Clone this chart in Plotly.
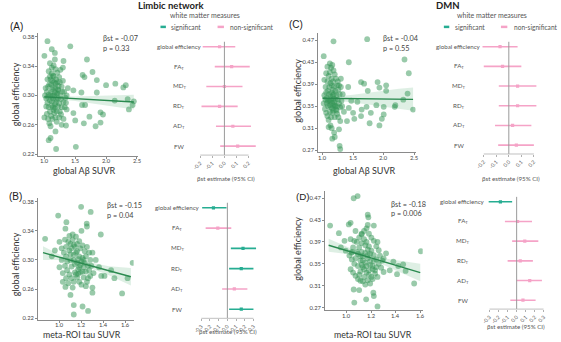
import plotly.graph_objects as go

W, H = 561, 342

# ---------------- scatter data ----------------
a_x = [1.05,1.42,1.12,1.17,1.00,1.31,1.69,1.17,1.62,1.78,1.65,1.85,2.00,2.15,2.28,2.32,1.85,1.60,1.47,2.14,2.35,2.45,2.43,2.37,1.66,1.61,1.35,1.36,1.47,1.50,1.73,1.91,1.95,1.83,1.91,1.64,1.35,1.28,1.18,1.07,1.10,1.19,1.51,1.00,1.03,
       1.02,1.04,1.06,1.08,1.10,1.12,1.14,1.16,1.18,1.20,1.22,1.24,1.26,1.28,1.30,1.32,1.34,1.05,1.07,1.09,1.11,1.13,1.15,1.17,1.19,1.21,1.23,1.25,1.03,1.06,1.09,1.12,1.15,1.18,1.21,1.24,1.10,1.13,1.16,1.19,1.22,1.25,1.28,1.31,1.12,1.14,1.16,1.18,1.20,1.08,1.10,1.04,1.01,1.11,1.13,1.15,1.17,1.19,1.21,1.23,1.27,1.29,1.33,1.36,1.38,1.09,1.07,1.26,1.30,1.05,1.14,1.17,1.20,1.24,1.11,1.13,1.22,1.15,1.18,1.07,1.09,1.27,1.31,1.12,1.06]
a_y = [0.374,0.367,0.363,0.358,0.354,0.347,0.349,0.349,0.328,0.332,0.325,0.321,0.314,0.316,0.311,0.314,0.304,0.304,0.307,0.293,0.295,0.292,0.287,0.281,0.287,0.287,0.290,0.281,0.276,0.266,0.271,0.277,0.274,0.258,0.263,0.262,0.259,0.260,0.251,0.239,0.242,0.227,0.230,0.270,0.285,
       0.310,0.305,0.298,0.315,0.322,0.330,0.327,0.318,0.310,0.303,0.296,0.289,0.300,0.312,0.320,0.305,0.297,0.290,0.284,0.278,0.272,0.268,0.280,0.288,0.295,0.302,0.313,0.318,0.296,0.312,0.326,0.338,0.341,0.336,0.331,0.325,0.300,0.308,0.300,0.291,0.285,0.278,0.284,0.291,0.292,0.284,0.276,0.270,0.264,0.262,0.258,0.275,0.300,0.315,0.320,0.311,0.304,0.322,0.318,0.307,0.295,0.305,0.284,0.300,0.310,0.344,0.333,0.335,0.338,0.322,0.296,0.283,0.278,0.270,0.305,0.299,0.308,0.326,0.316,0.301,0.293,0.274,0.268,0.286,0.268]

b_x = [0.869,0.988,1.197,1.284,1.248,1.25,1.063,1.376,0.958,1.054,1.666,1.62,1.50,1.47,1.38,1.41,1.36,1.57,1.30,1.30,1.13,1.21,1.13,1.26,1.054,1.10,1.03,1.33,0.93,1.0,
       1.02,1.04,1.06,1.08,1.10,1.12,1.14,1.16,1.18,1.20,1.22,1.24,1.26,1.28,1.05,1.07,1.09,1.11,1.13,1.15,1.17,1.19,1.21,1.23,1.25,1.27,1.03,1.06,1.09,1.12,1.15,1.18,1.21,1.24,1.10,1.13,1.16,1.19,1.22,1.25,1.28,1.11,1.14,1.16,1.18,1.20,1.08,1.12,1.00,1.11,1.13,1.15,1.17,1.19,1.21,1.23,1.27,1.29,1.31,1.05,1.09,1.20,1.07,1.14,1.17,1.22,1.24,1.10,1.16,1.06,1.26,1.18,1.02,1.30,1.13]
b_y = [0.329,0.361,0.373,0.366,0.350,0.346,0.352,0.335,0.313,0.343,0.296,0.275,0.275,0.286,0.278,0.278,0.290,0.254,0.255,0.262,0.238,0.236,0.225,0.230,0.263,0.252,0.270,0.300,0.305,0.325,
       0.300,0.310,0.318,0.325,0.322,0.328,0.318,0.312,0.305,0.298,0.290,0.284,0.292,0.300,0.292,0.286,0.280,0.275,0.270,0.280,0.287,0.293,0.303,0.312,0.318,0.310,0.282,0.305,0.313,0.335,0.332,0.326,0.320,0.305,0.300,0.307,0.296,0.283,0.276,0.270,0.278,0.291,0.283,0.276,0.270,0.266,0.268,0.262,0.290,0.316,0.321,0.310,0.301,0.316,0.284,0.296,0.286,0.292,0.282,0.328,0.333,0.340,0.298,0.294,0.281,0.300,0.264,0.308,0.322,0.275,0.275,0.290,0.316,0.310,0.300]

c_x = [1.18,1.73,1.02,1.43,2.34,2.41,1.63,1.68,1.90,1.74,1.93,2.04,2.04,2.39,2.32,2.48,2.19,2.18,2.00,1.88,1.72,1.64,1.79,2.00,1.97,1.93,1.77,1.63,1.52,1.50,1.57,1.47,1.43,1.40,1.29,1.27,1.19,1.16,1.20,1.28,1.29,1.42,1.30,
       1.03,1.05,1.07,1.09,1.11,1.13,1.15,1.17,1.19,1.21,1.23,1.25,1.27,1.29,1.31,1.33,1.04,1.06,1.08,1.10,1.12,1.14,1.16,1.18,1.20,1.22,1.24,1.26,1.05,1.08,1.10,1.12,1.14,1.16,1.18,1.20,1.22,1.24,1.26,1.28,1.11,1.13,1.15,1.17,1.19,1.21,1.23,1.09,1.07,1.12,1.14,1.16,1.18,1.20,1.13,1.15,1.10,1.08,1.06,1.12,1.15,1.17,1.19,1.03,1.25,1.27,1.30,1.32,1.35,1.11,1.13,1.16,1.21,1.09,1.14,1.18,1.02,1.24,1.06]
c_y = [0.468,0.472,0.441,0.430,0.435,0.410,0.394,0.391,0.394,0.378,0.384,0.388,0.378,0.373,0.362,0.344,0.352,0.349,0.349,0.352,0.349,0.344,0.338,0.335,0.327,0.315,0.319,0.332,0.327,0.338,0.358,0.360,0.347,0.323,0.323,0.308,0.302,0.291,0.294,0.278,0.272,0.385,0.400,
       0.370,0.362,0.355,0.378,0.385,0.392,0.400,0.395,0.386,0.378,0.370,0.362,0.355,0.348,0.360,0.372,0.345,0.338,0.332,0.325,0.340,0.348,0.356,0.364,0.352,0.344,0.336,0.330,0.385,0.395,0.405,0.412,0.420,0.425,0.415,0.408,0.400,0.388,0.380,0.372,0.360,0.368,0.375,0.370,0.358,0.350,0.342,0.350,0.365,0.352,0.330,0.338,0.342,0.330,0.315,0.310,0.312,0.422,0.410,0.428,0.388,0.380,0.372,0.398,0.395,0.388,0.385,0.350,0.340,0.372,0.358,0.346,0.362,0.360,0.362,0.352,0.355,0.350,0.375]

d_x = [1.055,1.087,0.862,0.934,0.98,1.015,1.03,1.17,1.175,1.22,1.17,0.99,1.036,1.32,1.38,1.46,1.42,1.48,1.41,1.35,1.55,1.605,1.30,1.30,1.10,1.055,1.216,1.22,1.06,1.157,1.25,1.11,0.95,1.12,1.07,
       1.02,1.04,1.06,1.08,1.10,1.12,1.14,1.16,1.18,1.20,1.22,1.24,1.26,1.28,1.03,1.05,1.07,1.09,1.11,1.13,1.15,1.17,1.19,1.21,1.23,1.25,1.05,1.08,1.10,1.12,1.14,1.16,1.18,1.20,1.22,1.24,1.26,1.11,1.13,1.15,1.17,1.19,1.21,1.23,1.09,1.07,1.12,1.14,1.16,1.18,1.20,1.13,1.15,1.17,1.19,1.21,1.10,1.06,1.12,1.15,1.17,1.19,1.03,1.25,1.27,1.29,1.14,1.16,1.11,1.09,1.22,1.24,1.13,1.18,1.04]
d_y = [0.470,0.474,0.420,0.406,0.392,0.422,0.425,0.440,0.435,0.420,0.421,0.374,0.370,0.369,0.354,0.349,0.346,0.337,0.331,0.338,0.314,0.373,0.360,0.335,0.302,0.303,0.297,0.291,0.279,0.285,0.272,0.319,0.380,0.405,0.410,
       0.365,0.358,0.350,0.372,0.380,0.388,0.395,0.390,0.382,0.374,0.366,0.358,0.350,0.343,0.340,0.334,0.328,0.322,0.336,0.344,0.352,0.360,0.348,0.340,0.332,0.326,0.380,0.390,0.398,0.404,0.410,0.415,0.405,0.398,0.392,0.382,0.375,0.356,0.364,0.370,0.366,0.355,0.346,0.338,0.346,0.360,0.348,0.326,0.334,0.338,0.326,0.318,0.312,0.320,0.314,0.322,0.330,0.392,0.372,0.384,0.376,0.368,0.395,0.390,0.365,0.356,0.340,0.346,0.364,0.368,0.355,0.344,0.356,0.330,0.372]

# regression fits and 95% bands
a_reg_x = [1.0, 1.25, 1.5, 1.75, 2.0, 2.25, 2.45]
a_reg_y = [0.2980, 0.2968, 0.2956, 0.2944, 0.2932, 0.2920, 0.2910]
a_reg_lo = [0.2945, 0.2945, 0.2925, 0.2895, 0.2865, 0.2835, 0.2810]
a_reg_hi = [0.3015, 0.2991, 0.2987, 0.2993, 0.2999, 0.3005, 0.3010]

b_reg_x = [0.85, 1.0, 1.15, 1.3, 1.45, 1.65]
b_reg_y = [0.310, 0.3038, 0.2976, 0.2914, 0.2853, 0.277]
b_reg_lo = [0.300, 0.300, 0.2945, 0.2875, 0.279, 0.265]
b_reg_hi = [0.319, 0.3075, 0.3005, 0.2955, 0.2915, 0.289]

c_reg_x = [1.0, 1.25, 1.5, 1.75, 2.0, 2.25, 2.48]
c_reg_y = [0.3645, 0.3643, 0.3641, 0.3639, 0.3637, 0.3633, 0.3625]
c_reg_lo = [0.359, 0.360, 0.357, 0.353, 0.349, 0.345, 0.342]
c_reg_hi = [0.370, 0.368, 0.371, 0.374, 0.378, 0.382, 0.384]

d_reg_x = [0.85, 1.0, 1.15, 1.3, 1.45, 1.6]
d_reg_y = [0.384, 0.374, 0.364, 0.354, 0.344, 0.334]
d_reg_lo = [0.372, 0.368, 0.360, 0.348, 0.333, 0.318]
d_reg_hi = [0.396, 0.381, 0.368, 0.360, 0.355, 0.350]

stats_a = ["βst = -0.07", "p = 0.33"]
stats_b = ["βst = -0.15", "p = 0.04"]
stats_c = ["βst = -0.04", "p = 0.55"]
stats_d = ["βst = -0.18", "p = 0.006"]

# ---------------- forest data ----------------
measures = ["global efficiency", "FA<sub>T</sub>", "MD<sub>T</sub>", "RD<sub>T</sub>", "AD<sub>T</sub>", "FW"]
fa_est = [-0.04, 0.06, 0.00, -0.04, 0.07, 0.11]
fa_lo = [-0.18, -0.08, -0.15, -0.19, -0.07, -0.035]
fa_hi = [0.09, 0.21, 0.15, 0.11, 0.22, 0.26]
fa_sig = [0, 0, 0, 0, 0, 0]

fb_est = [-0.16, -0.11, 0.18, 0.16, 0.08, 0.16]
fb_lo = [-0.29, -0.25, 0.04, 0.02, -0.06, 0.02]
fb_hi = [-0.01, 0.045, 0.33, 0.30, 0.23, 0.30]
fb_sig = [1, 0, 1, 1, 0, 1]

fc_est = [-0.07, -0.05, 0.07, 0.07, 0.03, 0.06]
fc_lo = [-0.21, -0.20, -0.08, -0.08, -0.11, -0.085]
fc_hi = [0.07, 0.10, 0.22, 0.22, 0.18, 0.20]
fc_sig = [0, 0, 0, 0, 0, 0]

fd_est = [-0.18, 0.01, 0.09, 0.04, 0.145, 0.07]
fd_lo = [-0.31, -0.13, -0.05, -0.10, 0.0, -0.07]
fd_hi = [-0.05, 0.17, 0.24, 0.18, 0.28, 0.21]
fd_sig = [1, 0, 0, 0, 0, 0]

ticks_ab = [-0.2, -0.1, 0.0, 0.1, 0.2]
ticks_tau = [-0.3, -0.2, -0.1, 0.0, 0.1, 0.2, 0.3]

# ---------------- style ----------------
FONT = "Lato"
PT_COLOR = "rgba(52,150,85,0.5)"
LINE_COLOR = "#2a8a4f"
BAND_COLOR = "rgba(60,160,95,0.17)"
SIG = "#26ad92"
NONSIG = "#f5a3c7"
AXC = "#8a8a8a"


def px_x(a, b):
    return [a / W, b / W]


def px_y(top, bottom):
    return [1 - bottom / H, 1 - top / H]


def P(px):
    return px / W


def Q(py):
    return 1 - py / H


fig = go.Figure()
layout = dict(width=W, height=H, margin=dict(l=0, r=0, t=0, b=0),
              paper_bgcolor="white", plot_bgcolor="white", showlegend=False,
              font=dict(family=FONT, color="#333"))

shapes = []
annotations = []

scatter_specs = [
    (1, a_x, a_y, a_reg_x, a_reg_y, a_reg_lo, a_reg_hi, (33, 134.3), [0.904, 2.52], [1.0, 1.5, 2.0, 2.5],
     (33.3, 156.5), [0.218, 0.385], [0.22, 0.26, 0.30, 0.34, 0.38]),
    (2, b_x, b_y, b_reg_x, b_reg_y, b_reg_lo, b_reg_hi, (32.6, 129.7), [0.805, 1.675], [0.8, 1.0, 1.2, 1.4, 1.6],
     (199.3, 321.5), [0.218, 0.385], [0.22, 0.26, 0.30, 0.34, 0.38]),
    (3, c_x, c_y, c_reg_x, c_reg_y, c_reg_lo, c_reg_hi, (317.3, 416.2), [0.93, 2.52], [1.0, 1.5, 2.0, 2.5],
     (33.3, 153.3), [0.266, 0.483], [0.27, 0.31, 0.35, 0.39, 0.43, 0.47]),
    (4, d_x, d_y, d_reg_x, d_reg_y, d_reg_lo, d_reg_hi, (324.3, 423.5), [0.821, 1.62], [0.8, 1.0, 1.2, 1.4, 1.6],
     (191.7, 311.7), [0.2657, 0.484], [0.27, 0.31, 0.35, 0.39, 0.43, 0.47]),
]

for (n, xs, ys, rx, ry, rlo, rhi, xd, xr, xt, yd, yr, yt) in scatter_specs:
    xa = "x" if n == 1 else f"x{n}"
    ya = "y" if n == 1 else f"y{n}"
    fig.add_trace(go.Scatter(x=xs, y=ys, mode="markers", xaxis=xa, yaxis=ya,
                             marker=dict(size=5.8, color=PT_COLOR, line=dict(width=0))))
    fig.add_trace(go.Scatter(x=rx + rx[::-1], y=rhi + rlo[::-1], mode="lines", fill="toself",
                             fillcolor=BAND_COLOR, line=dict(width=0), xaxis=xa, yaxis=ya, hoverinfo="skip"))
    fig.add_trace(go.Scatter(x=rx, y=ry, mode="lines", line=dict(color=LINE_COLOR, width=1.4),
                             xaxis=xa, yaxis=ya))
    ax = dict(domain=px_x(*xd), range=xr, tickvals=xt, showticklabels=False,
              showline=True, linecolor=AXC, linewidth=1, ticks="outside", ticklen=2, tickcolor=AXC,
              showgrid=False, zeroline=False, anchor=ya)
    ay = dict(domain=px_y(*yd), range=yr, tickvals=yt, ticktext=[f"{v:.2f}" for v in yt],
              showline=True, linecolor=AXC, linewidth=1, ticks="outside", ticklen=2, tickcolor=AXC,
              showgrid=False, zeroline=False, tickfont=dict(size=5.8, color="#444"),
              anchor=xa)
    layout["xaxis" if n == 1 else f"xaxis{n}"] = ax
    layout["yaxis" if n == 1 else f"yaxis{n}"] = ay
    for v in xt:
        annotations.append(dict(x=v, xref=xa, y=Q(yd[1] + 5.2), yref="paper", text=f"{v:.1f}",
                                showarrow=False, xanchor="center", yanchor="middle",
                                font=dict(size=5.8, color="#444")))

forest_specs = [
    (5, fa_est, fa_lo, fa_hi, fa_sig, (195, 256.3), [-0.22, 0.28], ticks_ab, (35, 156), 176),
    (6, fb_est, fb_lo, fb_hi, fb_sig, (196.7, 255.9), [-0.32, 0.35], ticks_tau, (196.8, 320.2), 174),
    (7, fc_est, fc_lo, fc_hi, fc_sig, (483, 545.4), [-0.22, 0.27], ticks_ab, (35.1, 154.9), 460),
    (8, fd_est, fd_lo, fd_hi, fd_sig, (488.7, 546.5), [-0.33, 0.30], ticks_tau, (191.1, 310.9), 464),
]

for (n, est, lo, hi, sig, xd, xr, xt, yd, labx) in forest_specs:
    xa, ya = f"x{n}", f"y{n}"
    shapes.append(dict(type="line", xref=xa, yref=ya, x0=0, x1=0, y0=-0.25, y1=5.45,
                       line=dict(color="#9a9a9a", width=1)))
    shapes.append(dict(type="line", xref=xa, yref=f"{ya} domain", x0=xt[0], x1=xt[-1], y0=0, y1=0,
                       line=dict(color="#b0b0b0", width=0.8)))
    for i in range(len(measures)):
        col = SIG if sig[i] else NONSIG
        fig.add_trace(go.Scatter(x=[lo[i], hi[i]], y=[i, i], mode="lines", xaxis=xa, yaxis=ya,
                                 line=dict(color=col, width=1.6)))
        fig.add_trace(go.Scatter(x=[est[i]], y=[i], mode="markers", xaxis=xa, yaxis=ya,
                                 marker=dict(symbol="square", size=3.2, color=col)))
        rowpx = yd[0] + (i + 0.6) * (yd[1] - yd[0]) / 6.05
        annotations.append(dict(x=P(labx), y=Q(rowpx), xref="paper", yref="paper", text=measures[i],
                                showarrow=False, xanchor="center", yanchor="middle",
                                font=dict(size=6.2, color="#555")))
    layout[f"xaxis{n}"] = dict(domain=px_x(*xd), range=xr, tickvals=xt,
                               ticktext=[f"{v:.1f}" for v in xt], tickangle=-45,
                               showline=False, ticks="outside", ticklen=2, tickcolor="#b0b0b0",
                               showgrid=False, zeroline=False, tickfont=dict(size=5.2, color="#555"),
                               anchor=ya)
    layout[f"yaxis{n}"] = dict(domain=px_y(*yd), range=[5.45, -0.6], visible=False,
                               showgrid=False, zeroline=False, anchor=xa)


def ann(text, x, y, size, color="#333", xanchor="left", yanchor="middle", textangle=0, bold=False, family=FONT):
    if bold:
        text = f"<b>{text}</b>"
    annotations.append(dict(x=P(x), y=Q(y), xref="paper", yref="paper", text=text, showarrow=False,
                            xanchor=xanchor, yanchor=yanchor, textangle=textangle,
                            font=dict(size=size, color=color, family=family)))


# stats text
for (st, x, y1, y2) in [(stats_a, 97, 39, 49), (stats_b, 100.5, 207, 216.5),
                        (stats_c, 381.5, 39, 49), (stats_d, 389, 206, 215)]:
    ann(st[0], x, y1, 7.3, color="#444")
    ann(st[1], x, y2, 7.3, color="#444")

# panel letters
ann("(A)", 2, 27, 10, color="#222", family="Liberation Sans")
ann("(B)", 1, 198, 10, color="#222", family="Liberation Sans")
ann("(C)", 286, 25, 10, color="#222", family="Liberation Sans")
ann("(D)", 292.5, 198, 9.8, color="#222", family="Liberation Sans")

# axis titles
ann("global efficiency", 10, 95, 9, textangle=-90, xanchor="center")
ann("global efficiency", 10, 266, 9, textangle=-90, xanchor="center")
ann("global efficiency", 296, 91, 9, textangle=-90, xanchor="center")
ann("global efficiency", 296, 250, 9, textangle=-90, xanchor="center")
ann("global Aβ SUVR", 80, 171, 9, xanchor="center")
ann("global Aβ SUVR", 364, 171, 9, xanchor="center")
ann("meta-ROI tau SUVR", 77, 336, 8.8, xanchor="center")
ann("meta-ROI tau SUVR", 373, 336, 8.8, xanchor="center")

# forest x titles
ann("βst estimate (95% CI)", 223.5, 180, 6.2, color="#555", xanchor="center")
ann("βst estimate (95% CI)", 513, 180, 6.2, color="#555", xanchor="center")
ann("βst estimate (95% CI)", 225.5, 333, 6.2, color="#555", xanchor="center")
ann("βst estimate (95% CI)", 518.5, 328, 6.2, color="#555", xanchor="center")

# section titles
ann("Limbic network", 132, 6, 9.5, color="#222", bold=True)
ann("DMN", 435, 6, 9.5, color="#222", bold=True)

# legends
for (cx, sx, nsx) in [(202, 157, 215), (494, 445, 503)]:
    ann("white matter measures", cx, 15.5, 7, color="#555", xanchor="center")
    shapes.append(dict(type="rect", xref="paper", yref="paper", x0=P(sx), x1=P(sx + 5.5),
                       y0=Q(28.3), y1=Q(25.8), fillcolor=SIG, line=dict(width=0)))
    ann("significant", sx + 9, 27, 6.7, color="#555")
    shapes.append(dict(type="rect", xref="paper", yref="paper", x0=P(nsx), x1=P(nsx + 6.5),
                       y0=Q(28.3), y1=Q(25.8), fillcolor=NONSIG, line=dict(width=0)))
    ann("non-significant", nsx + 11, 27, 6.6, color="#555")

layout["shapes"] = shapes
layout["annotations"] = annotations
fig.update_layout(**layout)
fig.write_html("out.html",
               config={"displayModeBar": False},
               post_script="document.body.style.margin='0px';document.body.style.overflow='hidden';")
